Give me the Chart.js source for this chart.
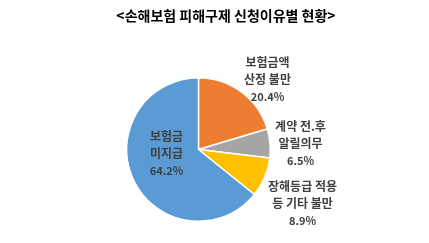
<!DOCTYPE html>
<html>
<head>
<meta charset="utf-8">
<script src="https://cdn.jsdelivr.net/npm/chart.js@4"></script>
<style>
  html, body { margin: 0; padding: 0; background: #fff; }
  #wrap { position: relative; width: 429px; height: 243px; }
</style>
</head>
<body>
<div id="wrap"><canvas id="pieChart" width="429" height="243"></canvas></div>
<script>
const title = "<손해보험 피해구제 신청이유별 현황>";
const categories = [["보험금액", "산정 불만"], ["계약 전.후", "알릴의무"], ["장해등급 적용", "등 기타 불만"], ["보험금", "미지급"]];
const shares = [20.4, 6.5, 8.9, 64.2];
const pctLabels = ["20.4%", "6.5%", "8.9%", "64.2%"];

const colors = ["#ED7D31", "#A5A5A5", "#FFC000", "#5B9BD5"];
// where each label block sits, relative to the pie centre
const labelOffset = [[69, -70], [102, -6], [104, 54], [-32, 4]];
const font = "'Noto Sans CJK KR', 'Noto Sans', sans-serif";

const labelPlugin = {
  id: "sliceLabels",
  afterDraw(chart) {
    const ctx = chart.ctx;
    ctx.save();
    ctx.fillStyle = "#000";
    ctx.textAlign = "center";
    ctx.textBaseline = "middle";
    ctx.font = "bold 14px " + font;
    ctx.fillText(title, 226, 16);

    const arcs = chart.getDatasetMeta(0).data;
    arcs.forEach((arc, i) => {
      const { x, y } = arc.getProps(["x", "y"], true);
      const cx = x + labelOffset[i][0];
      const cy = y + labelOffset[i][1];
      ctx.fillStyle = "#404040";
      ctx.font = "bold 12px " + font;
      ctx.fillText(categories[i][0], cx, cy - 17);
      ctx.fillText(categories[i][1], cx, cy);
      ctx.font = "bold 11px " + font;
      ctx.fillText(pctLabels[i], cx, cy + 17);
    });
    ctx.restore();
  }
};

new Chart(document.getElementById("pieChart"), {
  type: "pie",
  data: {
    labels: categories.map(c => c.join(" ")),
    datasets: [{
      data: shares,
      backgroundColor: colors,
      borderColor: "#fff",
      borderWidth: 1.5
    }]
  },
  options: {
    responsive: false,
    animation: false,
    layout: { padding: { left: 126, right: 158, top: 77, bottom: 21 } },
    plugins: {
      legend: { display: false },
      tooltip: { enabled: false },
      title: { display: false }
    }
  },
  plugins: [labelPlugin]
});
</script>
</body>
</html>
